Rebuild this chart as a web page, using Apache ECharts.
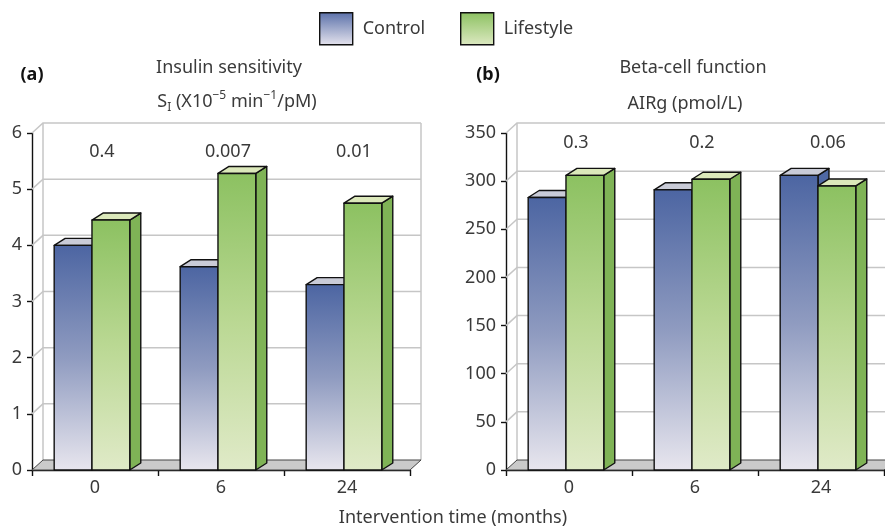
<!DOCTYPE html>
<html><head><meta charset="utf-8">
<script src="https://cdn.jsdelivr.net/npm/echarts@6/dist/echarts.min.js"></script>
<style>html,body{margin:0;padding:0;background:#fff}#c{width:885px;height:529px}</style>
</head><body><div id="c"></div>
<script>
// ---- data ----
const categories = ['0', '6', '24'];
const siControl = [4.0, 3.62, 3.3];
const siLifestyle = [4.45, 5.28, 4.75];
const airControl = [283, 291, 306];
const airLifestyle = [306, 302, 295];
const siPValues = ['0.4', '0.007', '0.01'];
const airPValues = ['0.3', '0.2', '0.06'];
const siTickValues = [0, 1, 2, 3, 4, 5, 6];
const airTickValues = [0, 50, 100, 150, 200, 250, 300, 350];

// ---- layout / style constants ----
const FONT = 'Noto Sans';
const FS = 18;
const TXT = '#3a3a3a';
const DX = 11, DY = -10;      // wall/floor depth
const BDX = 11, BDY = -7;     // bar depth
const SI_P_Y = 5.66, AIR_P_Y = 340;

const G = echarts.graphic;
const ctrlFront = () => new G.LinearGradient(0, 0, 0, 1, [
  {offset: 0, color: '#4c65a2'}, {offset: 0.5, color: '#8f9bc0'}, {offset: 1, color: '#e8e6ee'}]);
const lifeFront = () => new G.LinearGradient(0, 0, 0, 1, [
  {offset: 0, color: '#8cc161'}, {offset: 0.5, color: '#bad893'}, {offset: 1, color: '#e0eac8'}]);
const styles = [
  {front: ctrlFront, top: '#c9cbd7', side: '#4f68a4'},
  {front: lifeFront, top: '#dbe8ba', side: '#7fb356'}
];

function barRender(k) {
  return function (params, api) {
    const i = api.value(0), v = api.value(1);
    const band = api.size([1, 0])[0];
    const c = api.coord([i, v]);
    const b = api.coord([i, 0]);
    const w = band * 0.30;
    const cx = c[0] - band * 0.024;
    const x0 = k === 0 ? cx - w : cx;
    const x1 = x0 + w;
    const yt = c[1], yb = b[1];
    const st = styles[k];
    const line = {stroke: '#111', lineWidth: 1.4, lineJoin: 'round'};
    return {
      type: 'group',
      children: [
        {type: 'polygon', shape: {points: [[x1, yb], [x1 + BDX, yb + BDY], [x1 + BDX, yt + BDY], [x1, yt]]},
          style: Object.assign({fill: st.side}, line)},
        {type: 'polygon', shape: {points: [[x0, yt], [x0 + BDX, yt + BDY], [x1 + BDX, yt + BDY], [x1, yt]]},
          style: Object.assign({fill: st.top}, line)},
        {type: 'rect', shape: {x: x0, y: yt, width: w, height: yb - yt},
          style: Object.assign({fill: st.front()}, line)}
      ]
    };
  };
}

function frameRender(maxVal) {
  return function (params, api) {
    const cs = params.coordSys;
    const v = api.value(1);
    const y = api.coord([0, v])[1];
    const X0 = cs.x, X1 = cs.x + cs.width;
    const gridStyle = {stroke: '#c6c6c6', lineWidth: 1.5, fill: null};
    const children = [];
    if (v === 0) {
      const yTop = api.coord([0, maxVal])[1];
      children.push({type: 'line', shape: {x1: X0 + DX, y1: yTop + DY, x2: X0 + DX, y2: y + DY}, style: gridStyle});
      children.push({type: 'line', shape: {x1: X1 + DX, y1: yTop + DY, x2: X1 + DX, y2: y + DY}, style: gridStyle});
      children.push({type: 'polygon', shape: {points: [[X0, y], [X1, y], [X1 + DX, y + DY], [X0 + DX, y + DY]]},
        style: {fill: '#cacaca', stroke: '#444', lineWidth: 1}});
    } else {
      children.push({type: 'polyline', shape: {points: [[X0, y], [X0 + DX, y + DY], [X1 + DX, y + DY]]}, style: gridStyle});
    }
    return {type: 'group', children};
  };
}

function pRender(labels) {
  return function (params, api) {
    const c = api.coord([api.value(0), api.value(1)]);
    const band = api.size([1, 0])[0];
    return {type: 'text', x: c[0] + band * 0.055, y: c[1],
      style: {text: labels[params.dataIndex], fill: TXT, fontSize: FS, fontFamily: FONT, align: 'center', verticalAlign: 'middle'}};
  };
}

function makeAxes(idx, ticks) {
  return {
    x: {
      type: 'category', gridIndex: idx, data: categories, boundaryGap: true,
      axisLine: {lineStyle: {color: '#111', width: 1.4}},
      axisTick: {show: true, length: 6, lineStyle: {color: '#111', width: 1.4}},
      axisLabel: {color: TXT, fontSize: FS, fontFamily: FONT, margin: 9},
      splitLine: {show: false}
    },
    y: {
      type: 'value', gridIndex: idx, min: ticks[0], max: ticks[ticks.length - 1], interval: ticks[1] - ticks[0],
      axisLine: {show: true, lineStyle: {color: '#111', width: 1.4}},
      axisTick: {show: true, length: 5, lineStyle: {color: '#111', width: 1.4}},
      axisLabel: {color: TXT, fontSize: FS, fontFamily: FONT, margin: 10},
      splitLine: {show: false}
    }
  };
}
const a0 = makeAxes(0, siTickValues), a1 = makeAxes(1, airTickValues);

const legendText = {color: TXT, fontSize: FS, fontFamily: FONT, padding: [0, 0, 0, 5]};
const titleBase = {padding: 0, textAlign: 'center', textVerticalAlign: 'middle'};
const tStyle = {color: TXT, fontSize: FS, fontFamily: FONT, fontWeight: 'normal'};
const rs = (fs, pb) => ({fontSize: fs, fontFamily: FONT, fontWeight: 'normal', color: TXT,
  lineHeight: fs + 1, padding: [0, 0, pb, 0], verticalAlign: 'bottom'});

const option = {
  animation: false,
  backgroundColor: '#fff',
  title: [
    {text: '(a)', left: 32, top: 75, padding: 0, textAlign: 'center', textVerticalAlign: 'middle',
      textStyle: Object.assign({}, tStyle, {fontWeight: 'bold', color: '#111'})},
    Object.assign({text: 'Insulin sensitivity', left: 229, top: 68, textStyle: tStyle}, titleBase),
    Object.assign({
      text: '{n|S}{sub|I}{n| (X10}{sup|\u22125}{n| min}{sup|\u22121}{n|/pM)}', left: 237, top: 104,
      textStyle: {color: TXT, fontFamily: FONT, fontWeight: 'normal', fontSize: FS, rich: {
        n: rs(FS, 3), sub: rs(12, 0), sup: rs(12, 12)
      }}
    }, titleBase),
    {text: '(b)', left: 488, top: 75, padding: 0, textAlign: 'center', textVerticalAlign: 'middle',
      textStyle: Object.assign({}, tStyle, {fontWeight: 'bold', color: '#111'})},
    Object.assign({text: 'Beta-cell function', left: 693, top: 68, textStyle: tStyle}, titleBase),
    Object.assign({text: 'AIRg (pmol/L)', left: 685, top: 104, textStyle: tStyle}, titleBase),
    Object.assign({text: 'Intervention time (months)', left: 453, top: 518, textStyle: tStyle}, titleBase)
  ],
  legend: [
    {data: [{name: 'Control', itemStyle: {color: new G.LinearGradient(0, 0, 0, 1, [
        {offset: 0, color: '#5a70a9'}, {offset: 1, color: '#e6e4ee'}]), borderColor: '#111', borderWidth: 1.4}}],
      left: 319, top: 12, padding: 0, icon: 'rect', itemWidth: 33, itemHeight: 32, textStyle: legendText, selectedMode: false},
    {data: [{name: 'Lifestyle', itemStyle: {color: new G.LinearGradient(0, 0, 0, 1, [
        {offset: 0, color: '#8cc161'}, {offset: 1, color: '#dde9c2'}]), borderColor: '#111', borderWidth: 1.4}}],
      left: 460, top: 12, padding: 0, icon: 'rect', itemWidth: 33, itemHeight: 32, textStyle: legendText, selectedMode: false}
  ],
  grid: [
    {left: 32, top: 133, width: 378, height: 337},
    {left: 506, top: 133, width: 378, height: 337}
  ],
  xAxis: [a0.x, a1.x],
  yAxis: [a0.y, a1.y],
  series: [
    {type: 'custom', name: 'frameA', xAxisIndex: 0, yAxisIndex: 0, z: 1, clip: false, silent: true,
      renderItem: frameRender(siTickValues[siTickValues.length - 1]),
      data: siTickValues.map(v => [0, v]), encode: {x: 0, y: 1}},
    {type: 'custom', name: 'frameB', xAxisIndex: 1, yAxisIndex: 1, z: 1, clip: false, silent: true,
      renderItem: frameRender(airTickValues[airTickValues.length - 1]),
      data: airTickValues.map(v => [0, v]), encode: {x: 0, y: 1}},
    {type: 'custom', name: 'Control', xAxisIndex: 0, yAxisIndex: 0, z: 3, clip: false,
      renderItem: barRender(0), data: siControl.map((v, i) => [i, v]), encode: {x: 0, y: 1}},
    {type: 'custom', name: 'Lifestyle', xAxisIndex: 0, yAxisIndex: 0, z: 3, clip: false,
      renderItem: barRender(1), data: siLifestyle.map((v, i) => [i, v]), encode: {x: 0, y: 1}},
    {type: 'custom', name: 'Control', xAxisIndex: 1, yAxisIndex: 1, z: 3, clip: false,
      renderItem: barRender(0), data: airControl.map((v, i) => [i, v]), encode: {x: 0, y: 1}},
    {type: 'custom', name: 'Lifestyle', xAxisIndex: 1, yAxisIndex: 1, z: 3, clip: false,
      renderItem: barRender(1), data: airLifestyle.map((v, i) => [i, v]), encode: {x: 0, y: 1}},
    {type: 'custom', name: 'pA', xAxisIndex: 0, yAxisIndex: 0, z: 4, clip: false,
      renderItem: pRender(siPValues), data: siPValues.map((p, i) => [i, SI_P_Y]), encode: {x: 0, y: 1}},
    {type: 'custom', name: 'pB', xAxisIndex: 1, yAxisIndex: 1, z: 4, clip: false,
      renderItem: pRender(airPValues), data: airPValues.map((p, i) => [i, AIR_P_Y]), encode: {x: 0, y: 1}}
  ]
};
const chart = echarts.init(document.getElementById('c'), null, {renderer: 'canvas'});
chart.setOption(option);
</script>
</body></html>
